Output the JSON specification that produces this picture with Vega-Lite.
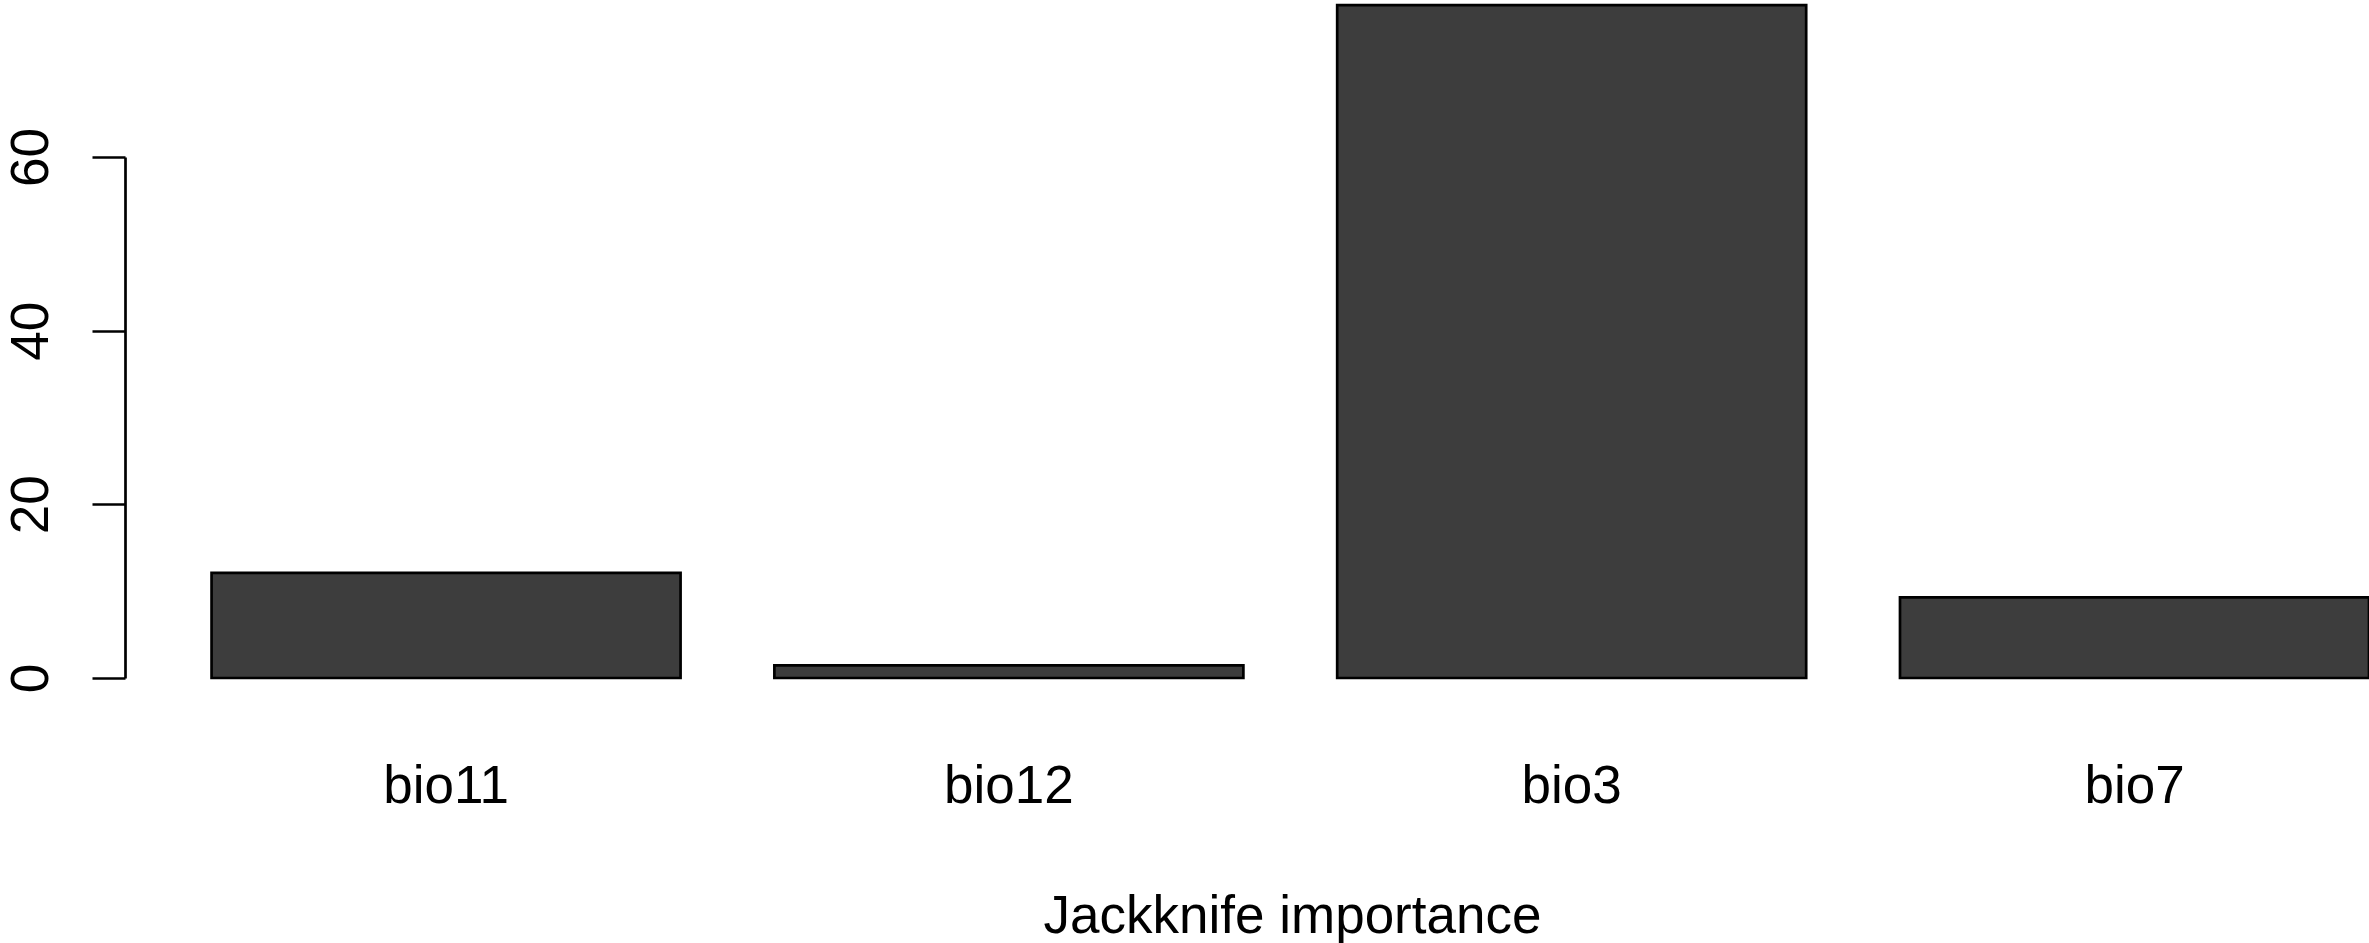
{
  "$schema": "https://vega.github.io/schema/vega-lite/v6.json",
  "autosize": {"type": "none"},
  "padding": {"left": 125, "top": 157, "right": 0, "bottom": 265},
  "width": 2244,
  "height": 521,
  "background": "white",
  "config": {
    "view": {"stroke": null},
    "font": "Liberation Sans"
  },
  "data": {
    "values": [
      {"variable": "bio11", "importance": 12.1},
      {"variable": "bio12", "importance": 1.45},
      {"variable": "bio3", "importance": 77.5},
      {"variable": "bio7", "importance": 9.28}
    ]
  },
  "mark": {"type": "bar", "fill": "#3d3d3d", "stroke": "black", "strokeWidth": 2.7, "clip": false},
  "encoding": {
    "x": {
      "field": "variable",
      "type": "nominal",
      "sort": ["bio11", "bio12", "bio3", "bio7"],
      "scale": {"paddingInner": 0.16667, "paddingOuter": 0.0769, "align": 1},
      "axis": {
        "title": "Jackknife importance",
        "titleFont": "Liberation Sans",
        "titleFontSize": 53,
        "titleFontWeight": "normal",
        "titleColor": "black",
        "titleBaseline": "alphabetic",
        "titleY": 254,
        "titleX": 1167,
        "titleAnchor": null,
        "domain": false,
        "ticks": false,
        "tickSize": 0,
        "labelAngle": 0,
        "labelFont": "Liberation Sans",
        "labelFontSize": 53,
        "labelColor": "black",
        "labelBaseline": "alphabetic",
        "labelPadding": 124,
        "grid": false
      }
    },
    "y": {
      "field": "importance",
      "type": "quantitative",
      "scale": {"domain": [0, 60], "nice": false, "zero": true},
      "axis": {
        "title": null,
        "values": [0, 20, 40, 60],
        "grid": false,
        "domain": true,
        "domainColor": "black",
        "domainWidth": 2.7,
        "ticks": true,
        "tickColor": "black",
        "tickWidth": 2.7,
        "tickSize": 33,
        "labelAngle": -90,
        "labelAlign": "center",
        "labelBaseline": "alphabetic",
        "labelFont": "Liberation Sans",
        "labelFontSize": 53,
        "labelColor": "black",
        "labelPadding": 45,
        "labelFlush": false,
        "labelOverlap": false
      }
    }
  }
}
